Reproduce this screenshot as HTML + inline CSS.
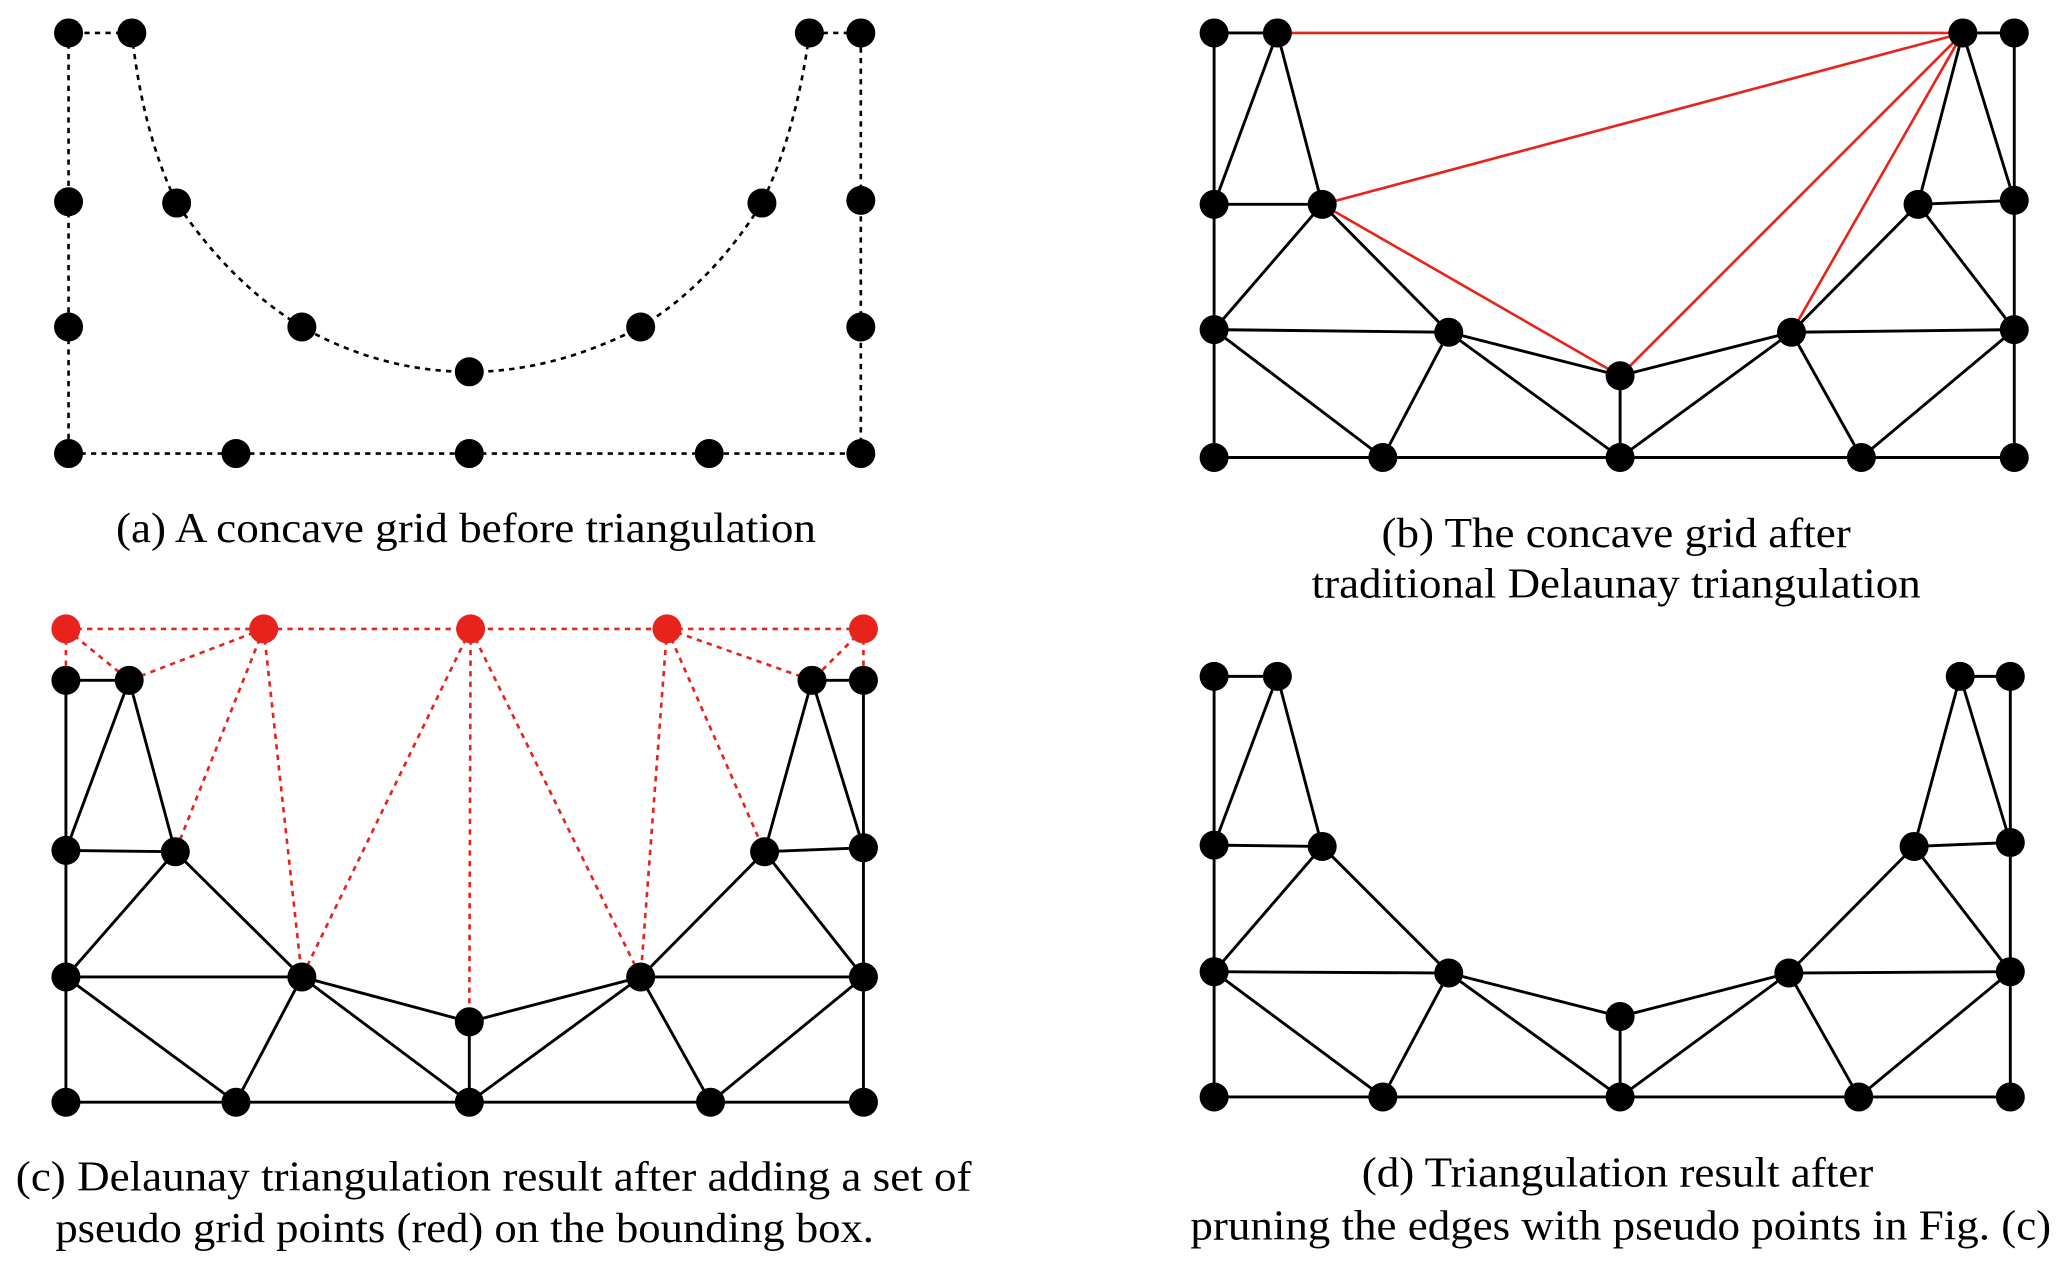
<!DOCTYPE html>
<html><head><meta charset="utf-8"><style>
html,body{margin:0;padding:0;background:#fff;}
svg{display:block;}
text{font-family:"Liberation Serif",serif;font-size:32px;fill:#000;}
</style></head><body>
<svg width="2067" height="1271" viewBox="0 0 1568 964" preserveAspectRatio="none" xmlns="http://www.w3.org/2000/svg">
<rect width="1568" height="964" fill="#fff"/>
<!-- (a) -->
<g stroke="#000" stroke-width="2" stroke-dasharray="4,4" fill="none">
<polyline points="100,25 52,25 52,344 653,344 653,25 614,25"/>
<path d="M100,25 Q108,100 134,154 Q175,215 229,248 Q290,282 356,282 Q420,282 486,248 Q540,215 578,154 Q604,100 614,25"/>
</g>
<g fill="#000">
<circle cx="52" cy="25" r="11"/><circle cx="100" cy="25" r="11"/><circle cx="614" cy="25" r="11"/><circle cx="653" cy="25" r="11"/>
<circle cx="52" cy="153" r="11"/><circle cx="134" cy="154" r="11"/><circle cx="578" cy="154" r="11"/><circle cx="653" cy="152" r="11"/>
<circle cx="52" cy="248" r="11"/><circle cx="229" cy="248" r="11"/><circle cx="486" cy="248" r="11"/><circle cx="653" cy="248" r="11"/>
<circle cx="356" cy="282" r="11"/>
<circle cx="52" cy="344" r="11"/><circle cx="179" cy="344" r="11"/><circle cx="356" cy="344" r="11"/><circle cx="538" cy="344" r="11"/><circle cx="653" cy="344" r="11"/>
</g>
<text x="88" y="411" textLength="531" lengthAdjust="spacingAndGlyphs">(a) A concave grid before triangulation</text>

<!-- (b) -->
<g stroke="#000" stroke-width="2.2" fill="none">
<polyline points="969,25 921,25 921,347 1528,347 1528,25 1489,25"/>
<line x1="969" y1="25" x2="921" y2="155"/><line x1="969" y1="25" x2="1003" y2="155"/>
<line x1="921" y1="155" x2="1003" y2="155"/><line x1="1003" y1="155" x2="921" y2="250"/>
<line x1="1003" y1="155" x2="1099" y2="252"/><line x1="921" y1="250" x2="1099" y2="252"/>
<line x1="921" y1="250" x2="1049" y2="347"/><line x1="1049" y1="347" x2="1099" y2="252"/>
<line x1="1099" y1="252" x2="1229" y2="285"/><line x1="1099" y1="252" x2="1229" y2="347"/><line x1="1229" y1="285" x2="1229" y2="347"/>
<line x1="1229" y1="285" x2="1359" y2="252"/><line x1="1229" y1="347" x2="1359" y2="252"/>
<line x1="1359" y1="252" x2="1528" y2="250"/><line x1="1359" y1="252" x2="1412" y2="347"/>
<line x1="1412" y1="347" x2="1528" y2="250"/><line x1="1359" y1="252" x2="1455" y2="155"/>
<line x1="1455" y1="155" x2="1528" y2="250"/><line x1="1455" y1="155" x2="1528" y2="152"/>
<line x1="1455" y1="155" x2="1489" y2="25"/><line x1="1489" y1="25" x2="1528" y2="152"/>
</g>
<g stroke="#e8231c" stroke-width="2" fill="none">
<line x1="969" y1="25" x2="1489" y2="25"/><line x1="1003" y1="155" x2="1489" y2="25"/>
<line x1="1003" y1="155" x2="1229" y2="285"/><line x1="1229" y1="285" x2="1489" y2="25"/>
<line x1="1359" y1="252" x2="1489" y2="25"/>
</g>
<g fill="#000">
<circle cx="921" cy="25" r="11"/><circle cx="969" cy="25" r="11"/><circle cx="1489" cy="25" r="11"/><circle cx="1528" cy="25" r="11"/>
<circle cx="921" cy="155" r="11"/><circle cx="1003" cy="155" r="11"/><circle cx="1455" cy="155" r="11"/><circle cx="1528" cy="152" r="11"/>
<circle cx="921" cy="250" r="11"/><circle cx="1099" cy="252" r="11"/><circle cx="1359" cy="252" r="11"/><circle cx="1528" cy="250" r="11"/>
<circle cx="1229" cy="285" r="11"/>
<circle cx="921" cy="347" r="11"/><circle cx="1049" cy="347" r="11"/><circle cx="1229" cy="347" r="11"/><circle cx="1412" cy="347" r="11"/><circle cx="1528" cy="347" r="11"/>
</g>
<text x="1048" y="415" textLength="356" lengthAdjust="spacingAndGlyphs">(b) The concave grid after</text>
<text x="995" y="453" textLength="462" lengthAdjust="spacingAndGlyphs">traditional Delaunay triangulation</text>

<!-- (c) -->
<g stroke="#e8231c" stroke-width="2" stroke-dasharray="4,4" fill="none">
<line x1="50" y1="477" x2="655" y2="477"/><line x1="50" y1="477" x2="50" y2="516"/><line x1="655" y1="477" x2="655" y2="516"/>
<line x1="50" y1="477" x2="98" y2="516"/><line x1="200" y1="477" x2="98" y2="516"/>
<line x1="200" y1="477" x2="133" y2="646"/><line x1="200" y1="477" x2="229" y2="741"/>
<line x1="357" y1="477" x2="229" y2="741"/><line x1="357" y1="477" x2="356" y2="775"/>
<line x1="357" y1="477" x2="486" y2="741"/><line x1="506" y1="477" x2="486" y2="741"/>
<line x1="506" y1="477" x2="580" y2="646"/><line x1="506" y1="477" x2="616" y2="516"/>
<line x1="655" y1="477" x2="616" y2="516"/>
</g>
<g stroke="#000" stroke-width="2.2" fill="none">
<polyline points="98,516 50,516 50,836 655,836 655,516 616,516"/>
<line x1="98" y1="516" x2="50" y2="645"/><line x1="98" y1="516" x2="133" y2="646"/>
<line x1="50" y1="645" x2="133" y2="646"/><line x1="133" y1="646" x2="50" y2="741"/>
<line x1="133" y1="646" x2="229" y2="741"/><line x1="50" y1="741" x2="229" y2="741"/>
<line x1="50" y1="741" x2="179" y2="836"/><line x1="179" y1="836" x2="229" y2="741"/>
<line x1="229" y1="741" x2="356" y2="836"/><line x1="229" y1="741" x2="356" y2="775"/>
<line x1="356" y1="775" x2="356" y2="836"/><line x1="356" y1="775" x2="486" y2="741"/>
<line x1="356" y1="836" x2="486" y2="741"/><line x1="486" y1="741" x2="655" y2="741"/>
<line x1="486" y1="741" x2="539" y2="836"/><line x1="539" y1="836" x2="655" y2="741"/>
<line x1="486" y1="741" x2="580" y2="646"/><line x1="580" y1="646" x2="655" y2="741"/>
<line x1="580" y1="646" x2="655" y2="643"/><line x1="580" y1="646" x2="616" y2="516"/>
<line x1="616" y1="516" x2="655" y2="643"/>
</g>
<g fill="#e8231c">
<circle cx="50" cy="477" r="11"/><circle cx="200" cy="477" r="11"/><circle cx="357" cy="477" r="11"/><circle cx="506" cy="477" r="11"/><circle cx="655" cy="477" r="11"/>
</g>
<g fill="#000">
<circle cx="50" cy="516" r="11"/><circle cx="98" cy="516" r="11"/><circle cx="616" cy="516" r="11"/><circle cx="655" cy="516" r="11"/>
<circle cx="50" cy="645" r="11"/><circle cx="133" cy="646" r="11"/><circle cx="580" cy="646" r="11"/><circle cx="655" cy="643" r="11"/>
<circle cx="50" cy="741" r="11"/><circle cx="229" cy="741" r="11"/><circle cx="486" cy="741" r="11"/><circle cx="655" cy="741" r="11"/>
<circle cx="356" cy="775" r="11"/>
<circle cx="50" cy="836" r="11"/><circle cx="179" cy="836" r="11"/><circle cx="356" cy="836" r="11"/><circle cx="539" cy="836" r="11"/><circle cx="655" cy="836" r="11"/>
</g>
<text x="12" y="903" textLength="725" lengthAdjust="spacingAndGlyphs">(c) Delaunay triangulation result after adding a set of</text>
<text x="42" y="942" textLength="621" lengthAdjust="spacingAndGlyphs">pseudo grid points (red) on the bounding box.</text>

<!-- (d) -->
<g stroke="#000" stroke-width="2.2" fill="none">
<polyline points="969,513 921,513 921,832 1525,832 1525,513 1487,513"/>
<line x1="969" y1="513" x2="921" y2="641"/><line x1="969" y1="513" x2="1003" y2="642"/>
<line x1="921" y1="641" x2="1003" y2="642"/><line x1="1003" y1="642" x2="921" y2="737"/>
<line x1="1003" y1="642" x2="1099" y2="738"/><line x1="921" y1="737" x2="1099" y2="738"/>
<line x1="921" y1="737" x2="1049" y2="832"/><line x1="1049" y1="832" x2="1099" y2="738"/>
<line x1="1099" y1="738" x2="1229" y2="832"/><line x1="1099" y1="738" x2="1229" y2="771"/>
<line x1="1229" y1="771" x2="1229" y2="832"/><line x1="1229" y1="771" x2="1357" y2="738"/>
<line x1="1229" y1="832" x2="1357" y2="738"/><line x1="1357" y1="738" x2="1525" y2="737"/>
<line x1="1357" y1="738" x2="1410" y2="832"/><line x1="1410" y1="832" x2="1525" y2="737"/>
<line x1="1357" y1="738" x2="1452" y2="642"/><line x1="1452" y1="642" x2="1525" y2="737"/>
<line x1="1452" y1="642" x2="1525" y2="639"/><line x1="1452" y1="642" x2="1487" y2="513"/>
<line x1="1487" y1="513" x2="1525" y2="639"/>
</g>
<g fill="#000">
<circle cx="921" cy="513" r="11"/><circle cx="969" cy="513" r="11"/><circle cx="1487" cy="513" r="11"/><circle cx="1525" cy="513" r="11"/>
<circle cx="921" cy="641" r="11"/><circle cx="1003" cy="642" r="11"/><circle cx="1452" cy="642" r="11"/><circle cx="1525" cy="639" r="11"/>
<circle cx="921" cy="737" r="11"/><circle cx="1099" cy="738" r="11"/><circle cx="1357" cy="738" r="11"/><circle cx="1525" cy="737" r="11"/>
<circle cx="1229" cy="771" r="11"/>
<circle cx="921" cy="832" r="11"/><circle cx="1049" cy="832" r="11"/><circle cx="1229" cy="832" r="11"/><circle cx="1410" cy="832" r="11"/><circle cx="1525" cy="832" r="11"/>
</g>
<text x="1033" y="900" textLength="388" lengthAdjust="spacingAndGlyphs">(d) Triangulation result after</text>
<text x="903" y="940" textLength="653" lengthAdjust="spacingAndGlyphs">pruning the edges with pseudo points in Fig. (c)</text>
</svg>
</body></html>
